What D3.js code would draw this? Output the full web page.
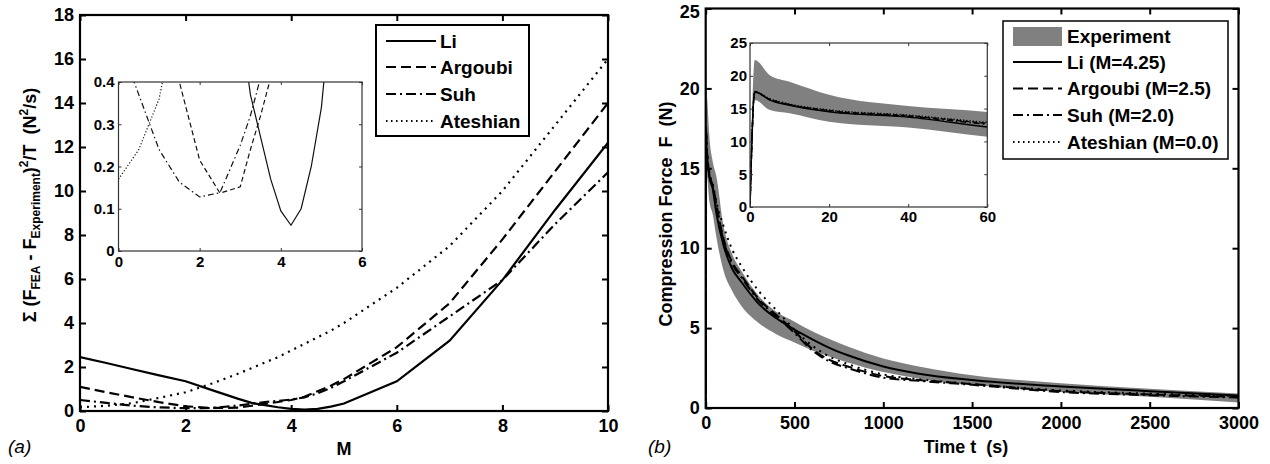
<!DOCTYPE html>
<html><head><meta charset="utf-8">
<script src="https://cdn.jsdelivr.net/npm/d3@7"></script>
<style>
body{margin:0;background:#fff;}
svg{display:block;font-family:"Liberation Sans",Arial,sans-serif;}
</style></head><body>
<svg id="chart" width="1270" height="464"></svg>
<script>
// ---------- Panel (a) data ----------
const mGrid       = [0, 0.5, 1, 1.5, 2, 2.5, 3, 3.25, 3.5, 3.75, 4, 4.25, 4.5, 4.75, 5, 6, 7, 8, 9, 10];
const errLi       = [2.45, 2.18, 1.9, 1.62, 1.35, 0.95, 0.55, 0.37, 0.27, 0.17, 0.095, 0.061, 0.1, 0.2, 0.34, 1.35, 3.2, 5.95, 9.15, 12.2];
const errArgoubi  = [1.1, 0.85, 0.62, 0.4, 0.215, 0.137, 0.152, 0.24, 0.32, 0.41, 0.5, 0.65, 0.9, 1.15, 1.45, 2.9, 4.9, 7.8, 10.9, 14.0];
const errSuh      = [0.5, 0.37, 0.24, 0.163, 0.128, 0.138, 0.25, 0.32, 0.41, 0.46, 0.52, 0.62, 0.8, 1.05, 1.35, 2.65, 4.3, 5.95, 8.5, 10.85];
const errAteshian = [0.17, 0.24, 0.36, 0.6, 0.85, 1.25, 1.7, 1.95, 2.2, 2.45, 2.75, 3.05, 3.35, 3.65, 4.0, 5.6, 7.5, 10.0, 13.0, 16.0];
const aXTicks = [0, 2, 4, 6, 8, 10];
const aYTicks = [0, 2, 4, 6, 8, 10, 12, 14, 16, 18];
const aInXTicks = [0, 2, 4, 6];
const aInYTicks = [0, 0.1, 0.2, 0.3, 0.4];
const aNames = ["Li", "Argoubi", "Suh", "Ateshian"];

// ---------- Panel (b) data ----------
const time       = [0, 1.2, 5, 10, 20, 40, 60, 100, 150, 200, 300, 400, 500, 600, 700, 800, 1000, 1200, 1500, 2000, 2500, 3000];
const expLow     = [0, 16.3, 14.8, 14.3, 13.0, 12.1, 10.7, 8.6, 7.3, 6.4, 5.3, 4.6, 4.1, 3.6, 3.2, 2.85, 2.25, 1.85, 1.45, 1.0, 0.7, 0.35];
const expHigh    = [0, 22.4, 20.1, 19.1, 17.1, 15.4, 14.5, 11.4, 9.6, 8.6, 7.0, 6.0, 5.4, 4.8, 4.3, 3.85, 3.1, 2.6, 2.05, 1.55, 1.2, 0.9];
const fLi        = [0, 17.6, 16.3, 15.5, 14.5, 13.7, 12.2, 10.2, 8.7, 7.9, 6.5, 5.6, 4.9, 4.3, 3.75, 3.3, 2.6, 2.15, 1.75, 1.35, 1.05, 0.78];
const fArgoubi   = [0, 17.5, 16.4, 15.6, 14.7, 13.9, 12.75, 10.6, 9.1, 8.3, 6.8, 5.8, 4.8, 3.7, 3.0, 2.6, 2.0, 1.75, 1.5, 1.05, 0.85, 0.7];
const fSuh       = [0, 17.5, 16.4, 15.6, 14.6, 13.8, 12.6, 10.5, 9.0, 8.2, 6.7, 5.7, 4.7, 3.6, 2.9, 2.5, 1.9, 1.7, 1.45, 1.0, 0.8, 0.65];
const fAteshian  = [0, 17.5, 16.5, 15.7, 14.8, 14.0, 12.9, 11.4, 9.9, 8.9, 7.3, 6.1, 4.9, 3.9, 3.2, 2.75, 2.1, 1.8, 1.5, 1.1, 0.9, 0.75];
const bXTicks = [0, 500, 1000, 1500, 2000, 2500, 3000];
const bYTicks = [0, 5, 10, 15, 20, 25];
const bInXTicks = [0, 20, 40, 60];
const bInYTicks = [0, 5, 10, 15, 20, 25];
const bNames = ["Experiment", "Li (M=4.25)", "Argoubi (M=2.5)", "Suh (M=2.0)", "Ateshian (M=0.0)"];

// ---------- styles ----------
const dashMain  = ["none", "10,5", "10,4,2,4", "2,5"];
const dashInset = ["none", "5,3", "6,3,1.5,3", "1.2,2"];
const dashLeg   = ["none", "10,5", "10,4,2,4", "1.5,3.5"];
const FONT = 18;
const fmtInt = d3.format("d");

const svg = d3.select("#chart");

function frame(g, x, y, xt, yt, o) {
  const [x0, x1] = x.range(), [yb, yt0] = y.range();
  const ax = [
    g.append("g").attr("transform", `translate(0,${yb})`)
      .call(d3.axisBottom(x).tickValues(xt).tickSizeInner(-o.tick).tickSizeOuter(0).tickPadding(o.padX).tickFormat(o.fx || fmtInt)),
    g.append("g").attr("transform", `translate(${x0},0)`)
      .call(d3.axisLeft(y).tickValues(yt).tickSizeInner(-o.tick).tickSizeOuter(0).tickPadding(o.padY).tickFormat(o.fy || fmtInt)),
    g.append("g").attr("transform", `translate(0,${yt0})`)
      .call(d3.axisTop(x).tickValues(xt).tickSizeInner(-o.tick).tickSizeOuter(0).tickFormat("")),
    g.append("g").attr("transform", `translate(${x1},0)`)
      .call(d3.axisRight(y).tickValues(yt).tickSizeInner(-o.tick).tickSizeOuter(0).tickFormat(""))
  ];
  ax.forEach(a => {
    a.attr("font-family", null).attr("font-size", null);
    a.select(".domain").remove();
    a.selectAll(".tick line").attr("stroke", o.col).attr("stroke-width", o.tw);
    a.selectAll("text").attr("fill", "#000").attr("font-size", o.fs).attr("font-weight", "bold");
  });
  if (o.topDy) ax[1].selectAll(".tick text").filter(d => d === yt[yt.length - 1]).attr("dy", o.topDy);
  g.append("rect").attr("x", x0).attr("y", yt0).attr("width", x1 - x0).attr("height", yb - yt0)
    .attr("fill", "none").attr("stroke", o.col).attr("stroke-width", o.sw);
}

function clip(id, x, y) {
  const [x0, x1] = x.range(), [yb, yt] = y.range();
  svg.append("clipPath").attr("id", id).append("rect")
    .attr("x", x0).attr("y", yt).attr("width", x1 - x0).attr("height", yb - yt);
}

// ================= Panel (a) =================
const aSeries = [errLi, errArgoubi, errSuh, errAteshian];
const xa = d3.scaleLinear().domain([0, 10]).range([80, 608]);
const ya = d3.scaleLinear().domain([0, 18]).range([411, 15]);
clip("clipA", xa, ya);
const ga = svg.append("g");
const lineA = d3.line().x((d, i) => xa(mGrid[i])).y(d => ya(d));
ga.append("g").attr("clip-path", "url(#clipA)").selectAll("path").data(aSeries).join("path")
  .attr("d", d => lineA(d)).attr("fill", "none").attr("stroke", "#000").attr("stroke-width", 2.2)
  .attr("stroke-dasharray", (d, i) => dashMain[i]);

// inset a
const xai = d3.scaleLinear().domain([0, 6]).range([118.5, 362]);
const yai = d3.scaleLinear().domain([0, 0.4]).range([251, 82]);
clip("clipAI", xai, yai);
const gai = ga.append("g");
gai.append("rect").attr("x", 118.5).attr("y", 82).attr("width", 362 - 118.5).attr("height", 251 - 82).attr("fill", "#fff");
const lineAI = d3.line().x((d, i) => xai(mGrid[i])).y(d => yai(d));
gai.append("g").attr("clip-path", "url(#clipAI)").selectAll("path").data(aSeries).join("path")
  .attr("d", d => lineAI(d)).attr("fill", "none").attr("stroke", "#111").attr("stroke-width", 1.2)
  .attr("stroke-dasharray", (d, i) => dashInset[i]);
frame(gai, xai, yai, aInXTicks, aInYTicks, {tick: 3, padX: 5, padY: 4, fs: 15, col: "#333", sw: 1.2, tw: 1,
  fy: d => d === 0 ? "0" : d3.format(".1f")(d)});

// legend a
const gla = ga.append("g");
gla.append("rect").attr("x", 376).attr("y", 25).attr("width", 153).attr("height", 111)
  .attr("fill", "#fff").attr("stroke", "#000").attr("stroke-width", 2);
const legAY = [41, 67, 94, 121];
aNames.forEach((n, i) => {
  gla.append("line").attr("x1", 386).attr("x2", 436).attr("y1", legAY[i]).attr("y2", legAY[i])
    .attr("stroke", "#000").attr("stroke-width", 2).attr("stroke-dasharray", dashLeg[i]);
  gla.append("text").attr("x", 440).attr("y", legAY[i] + 6.5).attr("font-size", FONT + 1)
    .attr("font-weight", "bold").text(n);
});

frame(ga, xa, ya, aXTicks, aYTicks, {tick: 6, padX: 8, padY: 6, fs: FONT, col: "#000", sw: 2.2, tw: 2});

// labels a
ga.append("text").attr("x", 344).attr("y", 455).attr("text-anchor", "middle")
  .attr("font-size", FONT).attr("font-weight", "bold").text("M");
const yl = ga.append("text").attr("transform", "translate(36,205) rotate(-90)")
  .attr("text-anchor", "middle").attr("font-size", FONT).attr("font-weight", "bold")
  .style("white-space", "pre");
[["Σ (F", 0, null], ["FEA", 4, 12], [" - F", -4, null], ["Experiment", 4, 12], [")", -4, null],
 ["2", -8, 12], ["/T  (N", 8, null], ["2", -8, 12], ["/s)", 8, null]].forEach(([t, dy, fs]) => {
  const ts = yl.append("tspan").attr("dy", dy).text(t);
  if (fs) ts.attr("font-size", fs);
});
svg.append("text").attr("x", 8).attr("y", 453).attr("font-size", 19).attr("font-style", "italic").text("(a)");

// ================= Panel (b) =================
const bSeries = [fLi, fArgoubi, fSuh, fAteshian];
const xb = d3.scaleLinear().domain([0, 3000]).range([705.7, 1238.5]);
const yb = d3.scaleLinear().domain([0, 25]).range([408, 8.5]);
clip("clipB", xb, yb);
const gb = svg.append("g");
const gbc = gb.append("g").attr("clip-path", "url(#clipB)");
gbc.append("path").datum(time)
  .attr("d", d3.area().x(d => xb(d)).y0((d, i) => yb(expLow[i])).y1((d, i) => yb(expHigh[i])).curve(d3.curveMonotoneX))
  .attr("fill", "#808080");
const lineB = d3.line().x((d, i) => xb(time[i])).y(d => yb(d)).curve(d3.curveMonotoneX);
gbc.selectAll("path.s").data(bSeries).join("path").attr("class", "s")
  .attr("d", d => lineB(d)).attr("fill", "none").attr("stroke", "#000").attr("stroke-width", 2)
  .attr("stroke-dasharray", (d, i) => dashMain[i]);

// inset b
const xbi = d3.scaleLinear().domain([0, 60]).range([750, 987.3]);
const ybi = d3.scaleLinear().domain([0, 25]).range([207, 43]);
clip("clipBI", xbi, ybi);
const gbi = gb.append("g");
gbi.append("rect").attr("x", 750).attr("y", 43).attr("width", 987.3 - 750).attr("height", 207 - 43).attr("fill", "#fff");
const gbic = gbi.append("g").attr("clip-path", "url(#clipBI)");
gbic.append("path").datum(time)
  .attr("d", d3.area().x(d => xbi(d)).y0((d, i) => ybi(expLow[i])).y1((d, i) => ybi(expHigh[i])).curve(d3.curveMonotoneX))
  .attr("fill", "#808080");
const lineBI = d3.line().x((d, i) => xbi(time[i])).y(d => ybi(d)).curve(d3.curveMonotoneX);
gbic.selectAll("path.s").data(bSeries).join("path").attr("class", "s")
  .attr("d", d => lineBI(d)).attr("fill", "none").attr("stroke", "#000").attr("stroke-width", 1.5)
  .attr("stroke-dasharray", (d, i) => dashInset[i]);
frame(gbi, xbi, ybi, bInXTicks, bInYTicks, {tick: 3, padX: 4, padY: 3, fs: 15, col: "#333", sw: 1.2, tw: 1});

// legend b
const glb = gb.append("g");
glb.append("rect").attr("x", 1003).attr("y", 21).attr("width", 225).attr("height", 138)
  .attr("fill", "#fff").attr("stroke", "#000").attr("stroke-width", 1.5);
const legBY = [36.5, 62, 88.5, 115, 142];
glb.append("rect").attr("x", 1013).attr("y", 27).attr("width", 49).attr("height", 19).attr("fill", "#808080");
bNames.forEach((n, i) => {
  if (i > 0) {
    glb.append("line").attr("x1", 1013).attr("x2", 1062).attr("y1", legBY[i]).attr("y2", legBY[i])
      .attr("stroke", "#000").attr("stroke-width", 2).attr("stroke-dasharray", dashLeg[i - 1]);
  }
  glb.append("text").attr("x", 1067).attr("y", legBY[i] + 6.5).attr("font-size", FONT + 1)
    .attr("font-weight", "bold").text(n);
});

frame(gb, xb, yb, bXTicks, bYTicks, {tick: 6, padX: 8, padY: 6, fs: FONT, col: "#000", sw: 2.2, tw: 2, topDy: "0.5em"});

gb.append("text").attr("x", 966).attr("y", 453).attr("text-anchor", "middle").style("white-space", "pre")
  .attr("font-size", FONT).attr("font-weight", "bold").text("Time t  (s)");
gb.append("text").attr("transform", "translate(672,214) rotate(-90)").attr("text-anchor", "middle")
  .style("white-space", "pre").attr("font-size", FONT).attr("font-weight", "bold").text("Compression Force  F  (N)");
svg.append("text").attr("x", 648).attr("y", 453).attr("font-size", 19).attr("font-style", "italic").text("(b)");
</script>
</body></html>
